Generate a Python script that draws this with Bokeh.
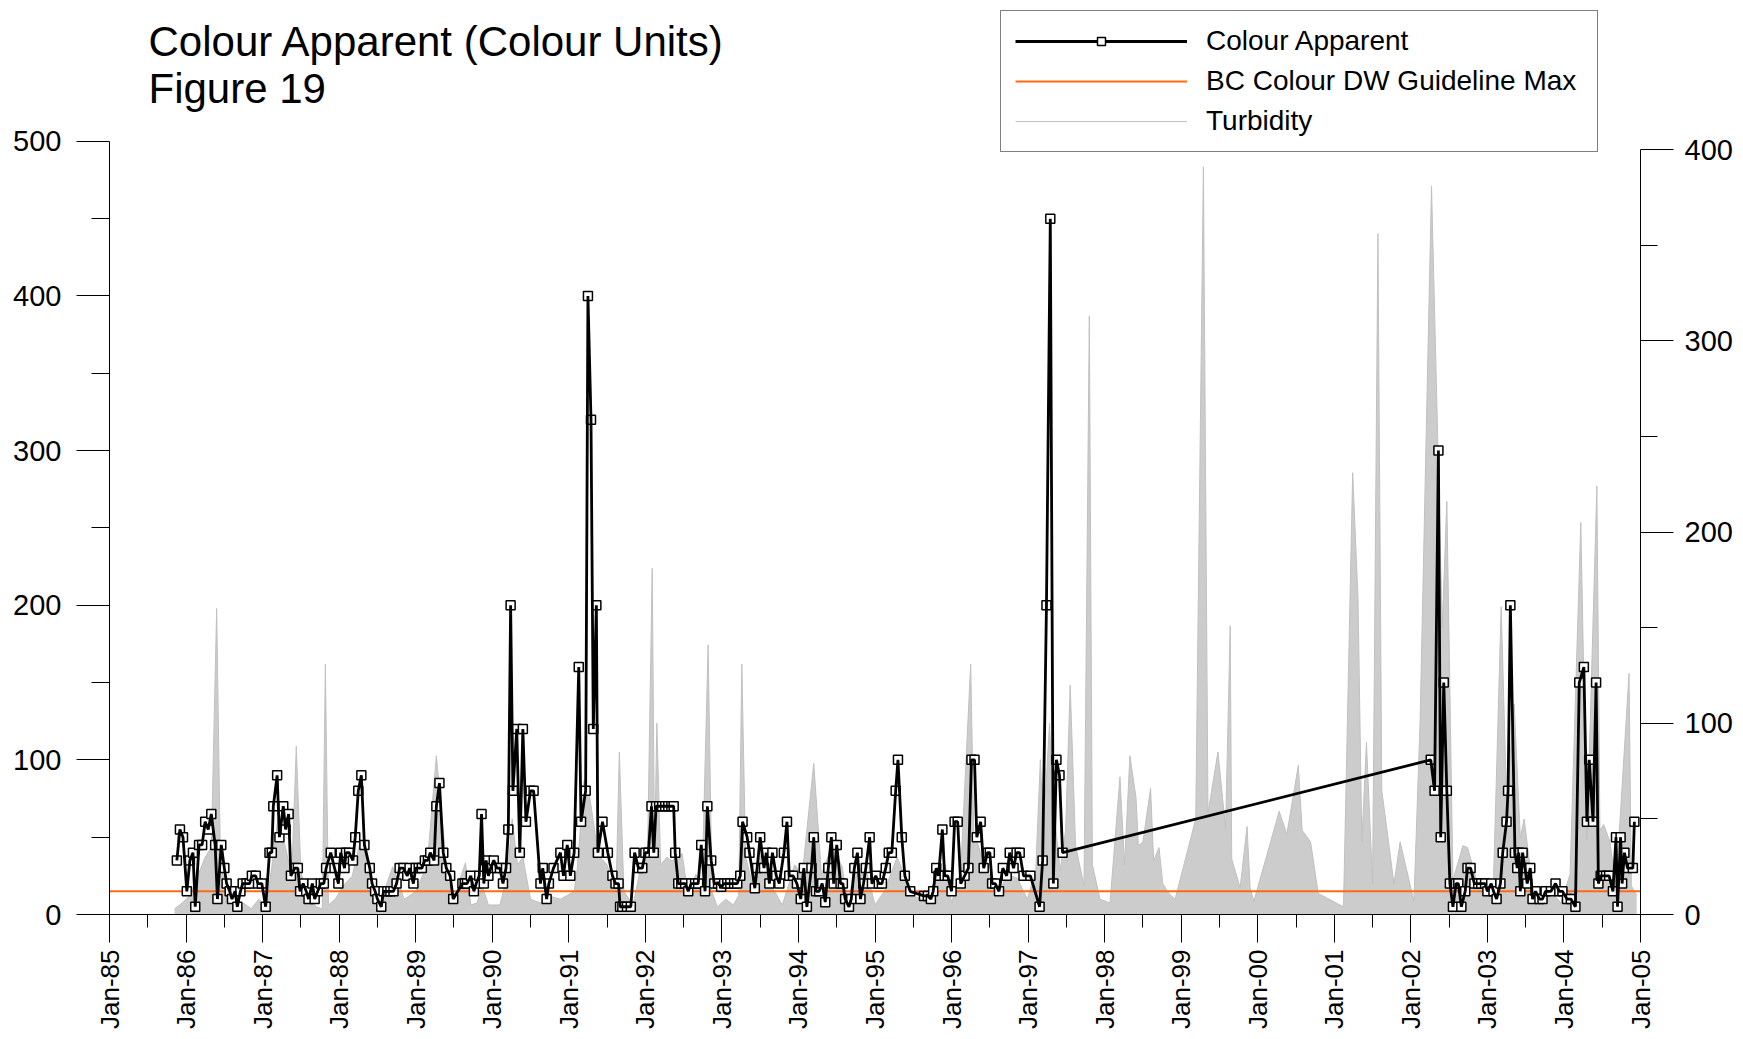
from math import pi
from bokeh.plotting import figure
from bokeh.models import (Range1d, LinearAxis, FixedTicker, Legend, LegendItem, Label)
from bokeh.embed import file_html
from bokeh.resources import INLINE

# ---------------- data ----------------
colour_year = [
    1985.88, 1985.92, 1985.96, 1986.01, 1986.05, 1986.09, 1986.12, 1986.17, 1986.21, 1986.25,
    1986.29, 1986.33, 1986.38, 1986.41, 1986.46, 1986.50, 1986.53, 1986.57, 1986.60, 1986.64,
    1986.67, 1986.71, 1986.74, 1986.79, 1986.83, 1986.86, 1986.91, 1986.94, 1986.99, 1987.04,
    1987.09, 1987.12, 1987.14, 1987.19, 1987.22, 1987.27, 1987.30, 1987.34, 1987.37, 1987.42,
    1987.46, 1987.49, 1987.53, 1987.57, 1987.60, 1987.65, 1987.68, 1987.72, 1987.76, 1987.80,
    1987.83, 1987.89, 1987.94, 1987.99, 1988.02, 1988.07, 1988.09, 1988.13, 1988.18, 1988.21,
    1988.25, 1988.29, 1988.33, 1988.40, 1988.43, 1988.47, 1988.50, 1988.55, 1988.58, 1988.63,
    1988.67, 1988.71, 1988.75, 1988.79, 1988.84, 1988.89, 1988.92, 1988.97, 1989.00, 1989.04,
    1989.08, 1989.12, 1989.16, 1989.19, 1989.24, 1989.27, 1989.31, 1989.36, 1989.40, 1989.45,
    1989.49, 1989.61, 1989.64, 1989.67, 1989.72, 1989.76, 1989.79, 1989.83, 1989.86, 1989.89,
    1989.92, 1989.95, 1989.98, 1990.02, 1990.06, 1990.10, 1990.14, 1990.18, 1990.21, 1990.24,
    1990.27, 1990.32, 1990.36, 1990.40, 1990.44, 1990.50, 1990.54, 1990.63, 1990.66, 1990.71,
    1990.74, 1990.80, 1990.89, 1990.93, 1990.98, 1991.02, 1991.07, 1991.13, 1991.16, 1991.22,
    1991.25, 1991.29, 1991.32, 1991.36, 1991.38, 1991.44, 1991.51, 1991.57, 1991.61, 1991.65,
    1991.67, 1991.70, 1991.76, 1991.81, 1991.86, 1991.91, 1991.96, 1992.00, 1992.04, 1992.08,
    1992.11, 1992.14, 1992.18, 1992.22, 1992.26, 1992.30, 1992.34, 1992.37, 1992.39, 1992.43,
    1992.47, 1992.52, 1992.56, 1992.60, 1992.65, 1992.69, 1992.73, 1992.78, 1992.81, 1992.86,
    1992.90, 1992.95, 1992.99, 1993.03, 1993.07, 1993.11, 1993.16, 1993.20, 1993.24, 1993.27,
    1993.33, 1993.36, 1993.43, 1993.46, 1993.50, 1993.55, 1993.58, 1993.62, 1993.66, 1993.71,
    1993.75, 1993.81, 1993.85, 1993.88, 1993.93, 1993.98, 1994.03, 1994.07, 1994.11, 1994.17,
    1994.20, 1994.23, 1994.27, 1994.31, 1994.35, 1994.39, 1994.43, 1994.46, 1994.50, 1994.55,
    1994.58, 1994.61, 1994.66, 1994.69, 1994.73, 1994.77, 1994.81, 1994.85, 1994.88, 1994.93,
    1994.96, 1995.01, 1995.05, 1995.09, 1995.14, 1995.18, 1995.22, 1995.27, 1995.30, 1995.35,
    1995.39, 1995.46, 1995.64, 1995.69, 1995.73, 1995.76, 1995.80, 1995.83, 1995.88, 1995.91,
    1995.95, 1996.00, 1996.04, 1996.08, 1996.12, 1996.17, 1996.22, 1996.26, 1996.30, 1996.33,
    1996.38, 1996.42, 1996.47, 1996.50, 1996.53, 1996.57, 1996.62, 1996.67, 1996.72, 1996.76,
    1996.81, 1996.85, 1996.89, 1996.94, 1997.03, 1997.15, 1997.19, 1997.24, 1997.29, 1997.33,
    1997.37, 1997.41, 1997.45, 2002.26, 2002.31, 2002.36, 2002.39, 2002.43, 2002.47, 2002.51,
    2002.55, 2002.59, 2002.62, 2002.66, 2002.71, 2002.74, 2002.78, 2002.83, 2002.88, 2002.92,
    2002.97, 2003.00, 2003.05, 2003.08, 2003.12, 2003.17, 2003.20, 2003.25, 2003.27, 2003.30,
    2003.36, 2003.39, 2003.41, 2003.43, 2003.46, 2003.49, 2003.52, 2003.56, 2003.59, 2003.63,
    2003.68, 2003.72, 2003.76, 2003.83, 2003.89, 2003.94, 2003.98, 2004.04, 2004.09, 2004.15,
    2004.20, 2004.26, 2004.30, 2004.33, 2004.38, 2004.42, 2004.45, 2004.48, 2004.55, 2004.59,
    2004.64, 2004.68, 2004.70, 2004.74, 2004.76, 2004.79, 2004.83, 2004.90, 2004.92,
]
colour_value = [
    35, 55, 50, 15, 35, 40, 5, 45, 45, 60,
    55, 65, 45, 10, 45, 30, 20, 15, 10, 15,
    5, 15, 20, 20, 20, 25, 25, 20, 20, 5,
    40, 40, 70, 90, 50, 70, 55, 65, 25, 30,
    30, 15, 20, 15, 10, 20, 10, 15, 20, 20,
    30, 40, 30, 20, 40, 30, 40, 40, 35, 50,
    80, 90, 45, 30, 20, 15, 10, 5, 15, 15,
    15, 15, 20, 30, 30, 25, 30, 20, 30, 30,
    30, 35, 35, 40, 35, 70, 85, 40, 30, 25,
    10, 20, 20, 20, 25, 15, 20, 25, 65, 20,
    35, 25, 30, 35, 30, 30, 20, 30, 55, 200,
    80, 120, 40, 120, 60, 80, 80, 20, 30, 10,
    20, 30, 40, 25, 45, 25, 40, 160, 60, 80,
    400, 320, 120, 200, 40, 60, 40, 25, 20, 20,
    5, 5, 5, 5, 40, 30, 30, 40, 40, 70,
    40, 70, 70, 70, 70, 70, 70, 70, 40, 20,
    20, 20, 15, 20, 20, 20, 45, 15, 70, 35,
    20, 20, 18, 20, 20, 20, 20, 20, 25, 60,
    50, 40, 17, 30, 50, 30, 40, 20, 40, 25,
    20, 40, 60, 25, 25, 20, 10, 30, 5, 30,
    50, 15, 15, 20, 8, 30, 50, 20, 45, 20,
    20, 10, 5, 10, 30, 40, 10, 20, 30, 50,
    20, 25, 20, 20, 30, 40, 40, 80, 100, 50,
    25, 15, 12, 12, 10, 15, 30, 25, 55, 25,
    25, 15, 60, 60, 20, 25, 30, 100, 100, 50,
    60, 30, 40, 40, 20, 20, 15, 30, 25, 40,
    30, 40, 40, 25, 25, 5, 35, 200, 450, 20,
    100, 90, 40, 100, 80, 300, 50, 150, 80, 20,
    5, 20, 20, 5, 15, 30, 30, 20, 20, 20,
    20, 15, 20, 15, 10, 20, 40, 60, 80, 200,
    40, 30, 40, 15, 40, 30, 20, 30, 10, 15,
    10, 10, 15, 15, 20, 15, 15, 10, 10, 5,
    150, 160, 60, 100, 60, 150, 20, 25, 25, 25,
    15, 50, 5, 50, 20, 40, 30, 30, 60,
]

turb_year = [
    1985.85, 1985.95, 1986.05, 1986.15, 1986.25, 1986.33, 1986.40, 1986.45, 1986.55, 1986.65,
    1986.75, 1986.85, 1986.95, 1987.05, 1987.12, 1987.20, 1987.30, 1987.38, 1987.44, 1987.50,
    1987.60, 1987.70, 1987.78, 1987.82, 1987.86, 1987.95, 1988.05, 1988.17, 1988.28, 1988.35,
    1988.45, 1988.55, 1988.70, 1988.85, 1989.00, 1989.15, 1989.27, 1989.36, 1989.42, 1989.52,
    1989.59, 1989.65, 1989.72, 1989.80, 1989.87, 1989.95, 1990.10, 1990.20, 1990.26, 1990.33,
    1990.40, 1990.50, 1990.63, 1990.72, 1990.89, 1991.07, 1991.11, 1991.20, 1991.28, 1991.35,
    1991.41, 1991.50, 1991.60, 1991.62, 1991.66, 1991.72, 1991.84, 1991.92, 1992.03, 1992.09,
    1992.12, 1992.15, 1992.20, 1992.28, 1992.35, 1992.48, 1992.55, 1992.66, 1992.74, 1992.82,
    1992.87, 1992.94, 1993.05, 1993.15, 1993.22, 1993.26, 1993.31, 1993.40, 1993.50, 1993.62,
    1993.79, 1993.95, 1994.05, 1994.20, 1994.30, 1994.44, 1994.57, 1994.65, 1994.74, 1994.90,
    1995.00, 1995.12, 1995.29, 1995.38, 1995.46, 1995.64, 1995.81, 1995.92, 1996.00, 1996.12,
    1996.25, 1996.29, 1996.38, 1996.47, 1996.60, 1996.73, 1996.86, 1996.99, 1997.10, 1997.16,
    1997.20, 1997.28, 1997.32, 1997.42, 1997.49, 1997.55, 1997.62, 1997.73, 1997.80, 1997.84,
    1997.94, 1998.07, 1998.20, 1998.26, 1998.33, 1998.41, 1998.44, 1998.50, 1998.60, 1998.64,
    1998.71, 1998.76, 1998.84, 1998.92, 1999.19, 1999.29, 1999.35, 1999.48, 1999.58, 1999.64,
    1999.66, 1999.77, 1999.86, 1999.90, 1999.95, 2000.28, 2000.38, 2000.53, 2000.58, 2000.69,
    2000.79, 2001.12, 2001.24, 2001.31, 2001.36, 2001.42, 2001.50, 2001.57, 2001.62, 2001.78,
    2001.86, 2002.04, 2002.12, 2002.27, 2002.35, 2002.41, 2002.47, 2002.55, 2002.68, 2002.74,
    2002.88, 2003.08, 2003.18, 2003.25, 2003.35, 2003.43, 2003.48, 2003.60, 2003.77, 2003.96,
    2004.08, 2004.22, 2004.30, 2004.43, 2004.47, 2004.52, 2004.60, 2004.68, 2004.85, 2004.88,
    2004.95,
]
turb_value = [
    3, 6, 10, 20, 30, 35, 160, 25, 12, 4,
    6, 3, 8, 4, 25, 50, 35, 20, 88, 22,
    10, 4, 3, 131, 5, 8, 15, 20, 39, 30,
    15, 8, 25, 8, 12, 26, 83, 44, 17, 8,
    20, 27, 5, 6, 15, 5, 5, 21, 50, 26,
    30, 8, 6, 10, 8, 12, 24, 70, 60, 40,
    30, 26, 12, 17, 85, 12, 5, 21, 36, 181,
    30, 100, 26, 30, 28, 32, 12, 21, 15, 141,
    12, 4, 8, 5, 10, 131, 30, 16, 34, 17,
    5, 26, 21, 79, 21, 36, 25, 6, 26, 21,
    5, 12, 30, 21, 10, 8, 19, 26, 6, 23,
    131, 44, 32, 23, 10, 21, 19, 8, 23, 81,
    44, 100, 60, 23, 44, 120, 36, 15, 313, 26,
    8, 6, 72, 26, 83, 61, 36, 38, 66, 28,
    35, 16, 11, 8, 50, 391, 53, 85, 45, 151,
    29, 14, 46, 14, 7, 54, 42, 78, 44, 38,
    11, 4, 231, 165, 38, 90, 16, 356, 65, 16,
    38, 7, 100, 381, 250, 150, 216, 18, 36, 35,
    15, 18, 161, 60, 110, 40, 50, 11, 15, 6,
    21, 205, 39, 224, 44, 47, 38, 15, 126, 15,
    10,
]

guideline_year = [1985, 2005]
guideline_value = [15, 15]

year_ticks = list(range(1985, 2006))
year_labels = ["Jan-85", "Jan-86", "Jan-87", "Jan-88", "Jan-89", "Jan-90", "Jan-91",
               "Jan-92", "Jan-93", "Jan-94", "Jan-95", "Jan-96", "Jan-97", "Jan-98",
               "Jan-99", "Jan-00", "Jan-01", "Jan-02", "Jan-03", "Jan-04", "Jan-05"]
left_ticks = [0, 100, 200, 300, 400, 500]
right_ticks = [0, 100, 200, 300, 400]

FONT = "Liberation Sans"

# frame spans the whole height above the x axis; axis lines are bounded
FRAME_H = 915          # px, frame top at page top, x axis at 915
AXIS_H = 774           # px between 0 and 500 on left axis
left_top = 500 * FRAME_H / AXIS_H
right_top = 404.3 * FRAME_H / AXIS_H

# ---------------- figure ----------------
p = figure(width=1735, height=1031, output_backend="svg", toolbar_location=None,
           x_range=Range1d(1985, 2005), y_range=Range1d(0, left_top),
           min_border_left=109, min_border_right=95,
           min_border_top=0, min_border_bottom=116)
p.extra_y_ranges = {"turb": Range1d(0, right_top)}
p.grid.visible = False
p.outline_line_color = None
p.background_fill_color = "white"
p.border_fill_color = "white"

# turbidity area (right axis)
p.varea(x=turb_year, y1=0, y2=turb_value, y_range_name="turb",
        fill_color="#cccccc", fill_alpha=1.0)
turb_line = p.line(turb_year, turb_value, y_range_name="turb",
                   line_color="#c0c0c0", line_width=1)

# guideline
guide = p.line(guideline_year, guideline_value, line_color="#ff6a13", line_width=2)

# colour apparent
col_pts = p.scatter(colour_year, colour_value, marker="square", size=9,
                    fill_color="white", line_color="black", line_width=1.5)
col_line = p.line(colour_year, colour_value, line_color="black", line_width=2.8)

# ---------------- axes ----------------
xa = p.xaxis[0]
xa.ticker = FixedTicker(ticks=year_ticks,
                        minor_ticks=[y + 0.5 for y in year_ticks[:-1]])
xa.major_label_overrides = {t: l for t, l in zip(year_ticks, year_labels)}
xa.major_label_orientation = pi / 2
xa.major_tick_out = 28
xa.major_tick_in = 0
xa.minor_tick_out = 13
xa.minor_tick_in = 0
xa.major_label_standoff = 7
xa.major_label_text_font = FONT
xa.major_label_text_font_size = "26px"
xa.major_label_text_color = "black"
xa.axis_line_color = "black"
xa.major_tick_line_color = "black"
xa.minor_tick_line_color = "black"

ya = p.yaxis[0]
ya.ticker = FixedTicker(ticks=left_ticks, minor_ticks=[50, 150, 250, 350, 450])
ya.bounds = (0, 500)
ya.major_tick_out = 33
ya.major_tick_in = 0
ya.minor_tick_out = 18
ya.minor_tick_in = 0
ya.major_label_standoff = 15
ya.major_label_text_font = FONT
ya.major_label_text_font_size = "29px"
ya.major_label_text_color = "black"
ya.axis_line_color = "black"
ya.major_tick_line_color = "black"
ya.minor_tick_line_color = "black"

ra = LinearAxis(y_range_name="turb",
                ticker=FixedTicker(ticks=right_ticks, minor_ticks=[50, 150, 250, 350]),
                bounds=(0, 400))
ra.major_tick_out = 33
ra.major_tick_in = 0
ra.minor_tick_out = 17
ra.minor_tick_in = 0
ra.major_label_standoff = 11
ra.major_label_text_font = FONT
ra.major_label_text_font_size = "29px"
ra.major_label_text_color = "black"
ra.axis_line_color = "black"
ra.major_tick_line_color = "black"
ra.minor_tick_line_color = "black"
p.add_layout(ra, "right")

# ---------------- legend ----------------
legend = Legend(items=[
    LegendItem(label="Colour Apparent", renderers=[col_line, col_pts]),
    LegendItem(label="BC Colour DW Guideline Max", renderers=[guide]),
    LegendItem(label="Turbidity", renderers=[turb_line]),
], location=(891, 762))
legend.label_text_font = FONT
legend.label_text_font_size = "28px"
legend.label_text_color = "black"
legend.glyph_width = 172
legend.glyph_height = 20
legend.label_height = 20
legend.spacing = 8
legend.padding = 14
legend.margin = 0
legend.label_standoff = 19
legend.label_width = 377
legend.border_line_color = "black"
legend.border_line_width = 1
legend.background_fill_color = "white"
legend.background_fill_alpha = 1.0
p.add_layout(legend, "center")

# ---------------- titles ----------------
p.add_layout(Label(x=39, y=873, x_units="screen", y_units="screen",
                   text="Colour Apparent (Colour Units)", text_font=FONT,
                   text_font_size="42px", text_baseline="alphabetic",
                   text_color="black"))
p.add_layout(Label(x=39, y=826, x_units="screen", y_units="screen",
                   text="Figure 19", text_font=FONT,
                   text_font_size="42px", text_baseline="alphabetic",
                   text_color="black"))

open("out.html", "w").write(file_html(p, INLINE))
